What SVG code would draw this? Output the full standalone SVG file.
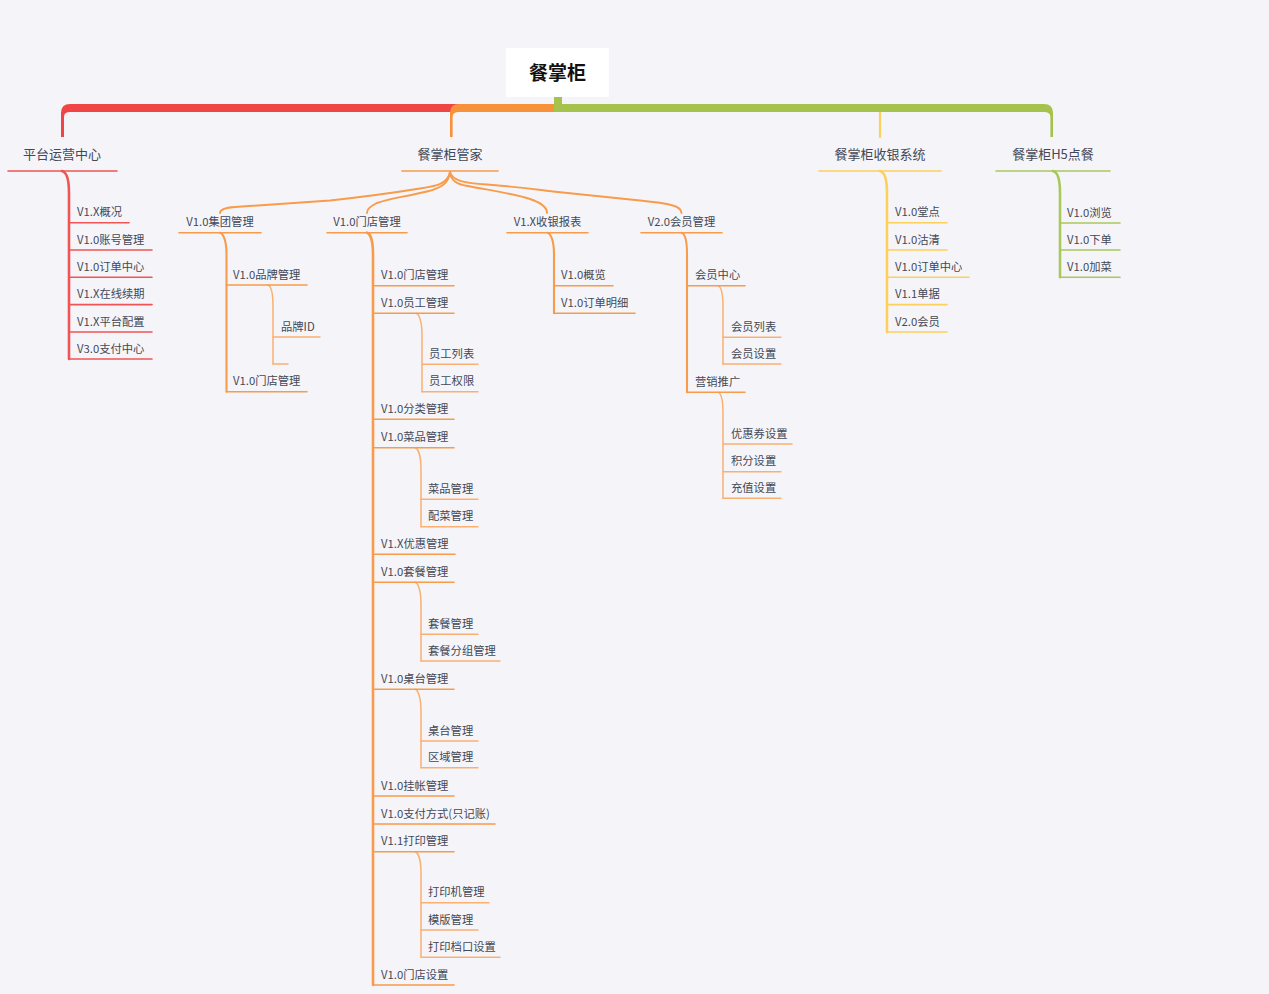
<svg xmlns="http://www.w3.org/2000/svg" width="1269" height="994" viewBox="0 0 1269 994">
<style>
text{font-family:"Noto Sans CJK SC","Noto Sans",sans-serif;fill:#434856}
.root{font-size:19px;font-weight:bold;fill:#111;text-anchor:middle}
.t1{font-size:13px;text-anchor:middle}
.t2{font-size:11.3px}
.tc{font-size:11.3px;text-anchor:middle}
line,path.c{fill:none;stroke-linecap:round}
.r{stroke:#f05454;stroke-width:1.6}
.o{stroke:#f89b4a;stroke-width:1.6}
.o3{stroke:#fab071;stroke-width:1.4}
.y{stroke:#fdd05c;stroke-width:1.6}
.g{stroke:#a8c85c;stroke-width:1.6}
.fan{stroke:#f89b4a;stroke-width:1.9}
.tr{stroke-width:2.6}
.tr2{stroke-width:2.1}
.tr3{stroke-width:1.5}
</style>
<rect x="0" y="0" width="1269" height="994" fill="#f5f5f9"/>

<g id="connectors">
  <!-- root to level 1 -->
  <path d="M554,104 L70,104 Q61,104 61,113 L61,137 L64,137 L64,117 Q64,112 70,112 L554,112 Z" fill="#ef4545"/>
  <line x1="880" y1="110" x2="880" y2="137" class="y" style="stroke-width:2.2"/>
  <path d="M554,104 L459,104 Q450,104 450,113 L450,137 L452.6,137 L452.6,117 Q452.6,112 459,112 L554,112 Z" fill="#f7923a"/>
  <path d="M554,97 L562,97 L562,104 L1044,104 Q1053,104 1053,113 L1053,137 L1050.4,137 L1050.4,117 Q1050.4,112 1044,112 L554,112 Z" fill="#a4c24c"/>
  <!-- trunks -->
  <path class="c r tr" d="M62,171 C66,172 69,179 69,193 L69,359"/>
  <path class="c y tr" d="M880,171 C884,172 887,179 887,193 L887,332"/>
  <path class="c g tr" d="M1053,171 C1057,172 1060,179 1060,193 L1060,277.3"/>
  <!-- fan from 餐掌柜管家 -->
  <path class="c fan" d="M450,172 C448,184 436,186 420,188.5 Q380,195 330,200.5 L235,207 C224,207.8 220,209.5 220,213"/>
  <path class="c fan" d="M450,172 C449,184 440,188 427,191.5 C405,197 385,199 375,204 C369,207 367,210 367,213"/>
  <path class="c fan" d="M450,172 C451,183 460,185 473,187 C495,191 515,194 530,199 C542,203 547,207 547,213"/>
  <path class="c fan" d="M450,172 C452,181 465,183 487,184.5 C520,187 540,190 553,191.5 L640,200.5 C670,203.5 681.5,206 681.5,213"/>
  <!-- level 2 trunks -->
  <path class="c o tr2" d="M220,232.7 C223,233.5 226.5,240 226.5,254 L226.5,391.7"/>
  <path class="c o tr" d="M367,232.7 C370,233.5 373,240 373,254 L373,985"/>
  <path class="c o tr2" d="M547.5,232.7 C550.5,233.5 554,240 554,254 L554,313.3"/>
  <path class="c o tr2" d="M681.5,232.7 C684.5,233.5 687,240 687,254 L687,392.3"/>
  <!-- level 3 trunks -->
  <path class="c o3 tr3" d="M268,285 C271,286 273,293 273,307 L273,364"/>
  <path class="c o3 tr3" d="M416,313.3 C419,314 422,321 422,335 L422,391.7"/>
  <path class="c o3 tr3" d="M415,447.7 C418,448.5 421,455 421,469 L421,526.7"/>
  <path class="c o3 tr3" d="M415,582.3 C418,583 421,590 421,604 L421,661"/>
  <path class="c o3 tr3" d="M415,689.3 C418,690 421,697 421,711 L421,767.7"/>
  <path class="c o3 tr3" d="M415,851.7 C418,852.5 421,859 421,873 L421,957.3"/>
  <path class="c o3 tr3" d="M718,285.7 C721,286.5 723,293 723,307 L723,364"/>
  <path class="c o3 tr3" d="M718,392.3 C721,393 723,400 723,414 L723,498.3"/>
</g>

<g id="root">
  <rect x="506" y="48" width="103" height="49" fill="#ffffff"/>
  <text class="root" x="557.5" y="80">餐掌柜</text>
</g>

<!-- Level 1 -->
<g id="n-platform"><text class="t1" x="62" y="159">平台运营中心</text><line class="r" x1="8" y1="171" x2="117" y2="171"/></g>
<g id="n-butler"><text class="t1" x="450" y="159">餐掌柜管家</text><line class="o" x1="402" y1="171" x2="498" y2="171"/></g>
<g id="n-pos"><text class="t1" x="880" y="159">餐掌柜收银系统</text><line class="y" x1="819" y1="171" x2="941" y2="171"/></g>
<g id="n-h5"><text class="t1" x="1053" y="159">餐掌柜H5点餐</text><line class="g" x1="996" y1="171" x2="1110" y2="171"/></g>

<!-- 平台运营中心 children -->
<g id="n-p1"><text class="t2" x="77" y="216.2">V1.X概况</text><line class="r" x1="69" y1="222.7" x2="129" y2="222.7"/></g>
<g id="n-p2"><text class="t2" x="77" y="243.5">V1.0账号管理</text><line class="r" x1="69" y1="250" x2="152" y2="250"/></g>
<g id="n-p3"><text class="t2" x="77" y="270.8">V1.0订单中心</text><line class="r" x1="69" y1="277.3" x2="152" y2="277.3"/></g>
<g id="n-p4"><text class="t2" x="77" y="298.1">V1.X在线续期</text><line class="r" x1="69" y1="304.6" x2="152" y2="304.6"/></g>
<g id="n-p5"><text class="t2" x="77" y="325.5">V1.X平台配置</text><line class="r" x1="69" y1="332" x2="152" y2="332"/></g>
<g id="n-p6"><text class="t2" x="77" y="352.5">V3.0支付中心</text><line class="r" x1="69" y1="359" x2="152" y2="359"/></g>

<!-- 餐掌柜管家 level 2 -->
<g id="n-b1"><text class="tc" x="220" y="226">V1.0集团管理</text><line class="o" x1="179" y1="232.7" x2="261" y2="232.7"/></g>
<g id="n-b2"><text class="tc" x="367" y="226">V1.0门店管理</text><line class="o" x1="327" y1="232.7" x2="407" y2="232.7"/></g>
<g id="n-b3"><text class="tc" x="547.5" y="226">V1.X收银报表</text><line class="o" x1="507" y1="232.7" x2="588" y2="232.7"/></g>
<g id="n-b4"><text class="tc" x="681.5" y="226">V2.0会员管理</text><line class="o" x1="641" y1="232.7" x2="722" y2="232.7"/></g>

<!-- 集团管理 children -->
<g id="n-b1-1"><text class="t2" x="233" y="278.5">V1.0品牌管理</text><line class="o" x1="226.5" y1="285" x2="307" y2="285"/></g>
<g id="n-b1-1-1"><text class="t2" x="281" y="330.5">品牌ID</text><line class="o3" x1="273" y1="337" x2="320" y2="337"/></g>
<g id="n-b1-1-2"><line class="o3" x1="273" y1="364" x2="288" y2="364"/></g>
<g id="n-b1-2"><text class="t2" x="233" y="385.2">V1.0门店管理</text><line class="o" x1="226.5" y1="391.7" x2="307" y2="391.7"/></g>

<!-- 门店管理 children -->
<g id="n-b2-1"><text class="t2" x="381" y="279.2">V1.0门店管理</text><line class="o" x1="373" y1="285.7" x2="454" y2="285.7"/></g>
<g id="n-b2-2"><text class="t2" x="381" y="306.8">V1.0员工管理</text><line class="o" x1="373" y1="313.3" x2="454" y2="313.3"/></g>
<g id="n-b2-2-1"><text class="t2" x="429" y="357.8">员工列表</text><line class="o3" x1="422" y1="364.3" x2="478" y2="364.3"/></g>
<g id="n-b2-2-2"><text class="t2" x="429" y="385.2">员工权限</text><line class="o3" x1="422" y1="391.7" x2="478" y2="391.7"/></g>
<g id="n-b2-3"><text class="t2" x="381" y="412.8">V1.0分类管理</text><line class="o" x1="373" y1="419.3" x2="454" y2="419.3"/></g>
<g id="n-b2-4"><text class="t2" x="381" y="441.2">V1.0菜品管理</text><line class="o" x1="373" y1="447.7" x2="454" y2="447.7"/></g>
<g id="n-b2-4-1"><text class="t2" x="428" y="492.8">菜品管理</text><line class="o3" x1="421" y1="499.3" x2="478" y2="499.3"/></g>
<g id="n-b2-4-2"><text class="t2" x="428" y="520.2">配菜管理</text><line class="o3" x1="421" y1="526.7" x2="478" y2="526.7"/></g>
<g id="n-b2-5"><text class="t2" x="381" y="547.8">V1.X优惠管理</text><line class="o" x1="373" y1="554.3" x2="455" y2="554.3"/></g>
<g id="n-b2-6"><text class="t2" x="381" y="575.8">V1.0套餐管理</text><line class="o" x1="373" y1="582.3" x2="454" y2="582.3"/></g>
<g id="n-b2-6-1"><text class="t2" x="428" y="627.8">套餐管理</text><line class="o3" x1="421" y1="634.3" x2="478" y2="634.3"/></g>
<g id="n-b2-6-2"><text class="t2" x="428" y="654.5">套餐分组管理</text><line class="o3" x1="421" y1="661" x2="500" y2="661"/></g>
<g id="n-b2-7"><text class="t2" x="381" y="682.8">V1.0桌台管理</text><line class="o" x1="373" y1="689.3" x2="454" y2="689.3"/></g>
<g id="n-b2-7-1"><text class="t2" x="428" y="734.5">桌台管理</text><line class="o3" x1="421" y1="741" x2="478" y2="741"/></g>
<g id="n-b2-7-2"><text class="t2" x="428" y="761.2">区域管理</text><line class="o3" x1="421" y1="767.7" x2="478" y2="767.7"/></g>
<g id="n-b2-8"><text class="t2" x="381" y="789.5">V1.0挂帐管理</text><line class="o" x1="373" y1="796" x2="454" y2="796"/></g>
<g id="n-b2-9"><text class="t2" x="381" y="817.5">V1.0支付方式(只记账)</text><line class="o" x1="373" y1="824" x2="495" y2="824"/></g>
<g id="n-b2-10"><text class="t2" x="381" y="845.2">V1.1打印管理</text><line class="o" x1="373" y1="851.7" x2="454" y2="851.7"/></g>
<g id="n-b2-10-1"><text class="t2" x="428" y="896.2">打印机管理</text><line class="o3" x1="421" y1="902.7" x2="489" y2="902.7"/></g>
<g id="n-b2-10-2"><text class="t2" x="428" y="923.5">模版管理</text><line class="o3" x1="421" y1="930" x2="478" y2="930"/></g>
<g id="n-b2-10-3"><text class="t2" x="428" y="950.8">打印档口设置</text><line class="o3" x1="421" y1="957.3" x2="500" y2="957.3"/></g>
<g id="n-b2-11"><text class="t2" x="381" y="978.5">V1.0门店设置</text><line class="o" x1="373" y1="985" x2="454" y2="985"/></g>

<!-- 收银报表 children -->
<g id="n-b3-1"><text class="t2" x="561" y="279.2">V1.0概览</text><line class="o" x1="554" y1="285.7" x2="613" y2="285.7"/></g>
<g id="n-b3-2"><text class="t2" x="561" y="306.8">V1.0订单明细</text><line class="o" x1="554" y1="313.3" x2="635" y2="313.3"/></g>

<!-- 会员管理 children -->
<g id="n-b4-1"><text class="t2" x="695" y="279.2">会员中心</text><line class="o" x1="687" y1="285.7" x2="745" y2="285.7"/></g>
<g id="n-b4-1-1"><text class="t2" x="731" y="330.8">会员列表</text><line class="o3" x1="723" y1="337.3" x2="781" y2="337.3"/></g>
<g id="n-b4-1-2"><text class="t2" x="731" y="357.5">会员设置</text><line class="o3" x1="723" y1="364" x2="781" y2="364"/></g>
<g id="n-b4-2"><text class="t2" x="695" y="385.8">营销推广</text><line class="o" x1="687" y1="392.3" x2="745" y2="392.3"/></g>
<g id="n-b4-2-1"><text class="t2" x="731" y="437.5">优惠券设置</text><line class="o3" x1="723" y1="444" x2="792" y2="444"/></g>
<g id="n-b4-2-2"><text class="t2" x="731" y="465.2">积分设置</text><line class="o3" x1="723" y1="471.7" x2="781" y2="471.7"/></g>
<g id="n-b4-2-3"><text class="t2" x="731" y="491.8">充值设置</text><line class="o3" x1="723" y1="498.3" x2="781" y2="498.3"/></g>

<!-- 收银系统 children -->
<g id="n-c1"><text class="t2" x="895" y="216.2">V1.0堂点</text><line class="y" x1="887" y1="222.7" x2="947" y2="222.7"/></g>
<g id="n-c2"><text class="t2" x="895" y="243.5">V1.0沽清</text><line class="y" x1="887" y1="250" x2="947" y2="250"/></g>
<g id="n-c3"><text class="t2" x="895" y="270.8">V1.0订单中心</text><line class="y" x1="887" y1="277.3" x2="969" y2="277.3"/></g>
<g id="n-c4"><text class="t2" x="895" y="298.1">V1.1单据</text><line class="y" x1="887" y1="304.6" x2="947" y2="304.6"/></g>
<g id="n-c5"><text class="t2" x="895" y="325.5">V2.0会员</text><line class="y" x1="887" y1="332" x2="947" y2="332"/></g>

<!-- H5 children -->
<g id="n-h1"><text class="t2" x="1067" y="216.5">V1.0浏览</text><line class="g" x1="1060" y1="223" x2="1120" y2="223"/></g>
<g id="n-h2"><text class="t2" x="1067" y="243.5">V1.0下单</text><line class="g" x1="1060" y1="250" x2="1120" y2="250"/></g>
<g id="n-h3"><text class="t2" x="1067" y="270.8">V1.0加菜</text><line class="g" x1="1060" y1="277.3" x2="1120" y2="277.3"/></g>
</svg>
